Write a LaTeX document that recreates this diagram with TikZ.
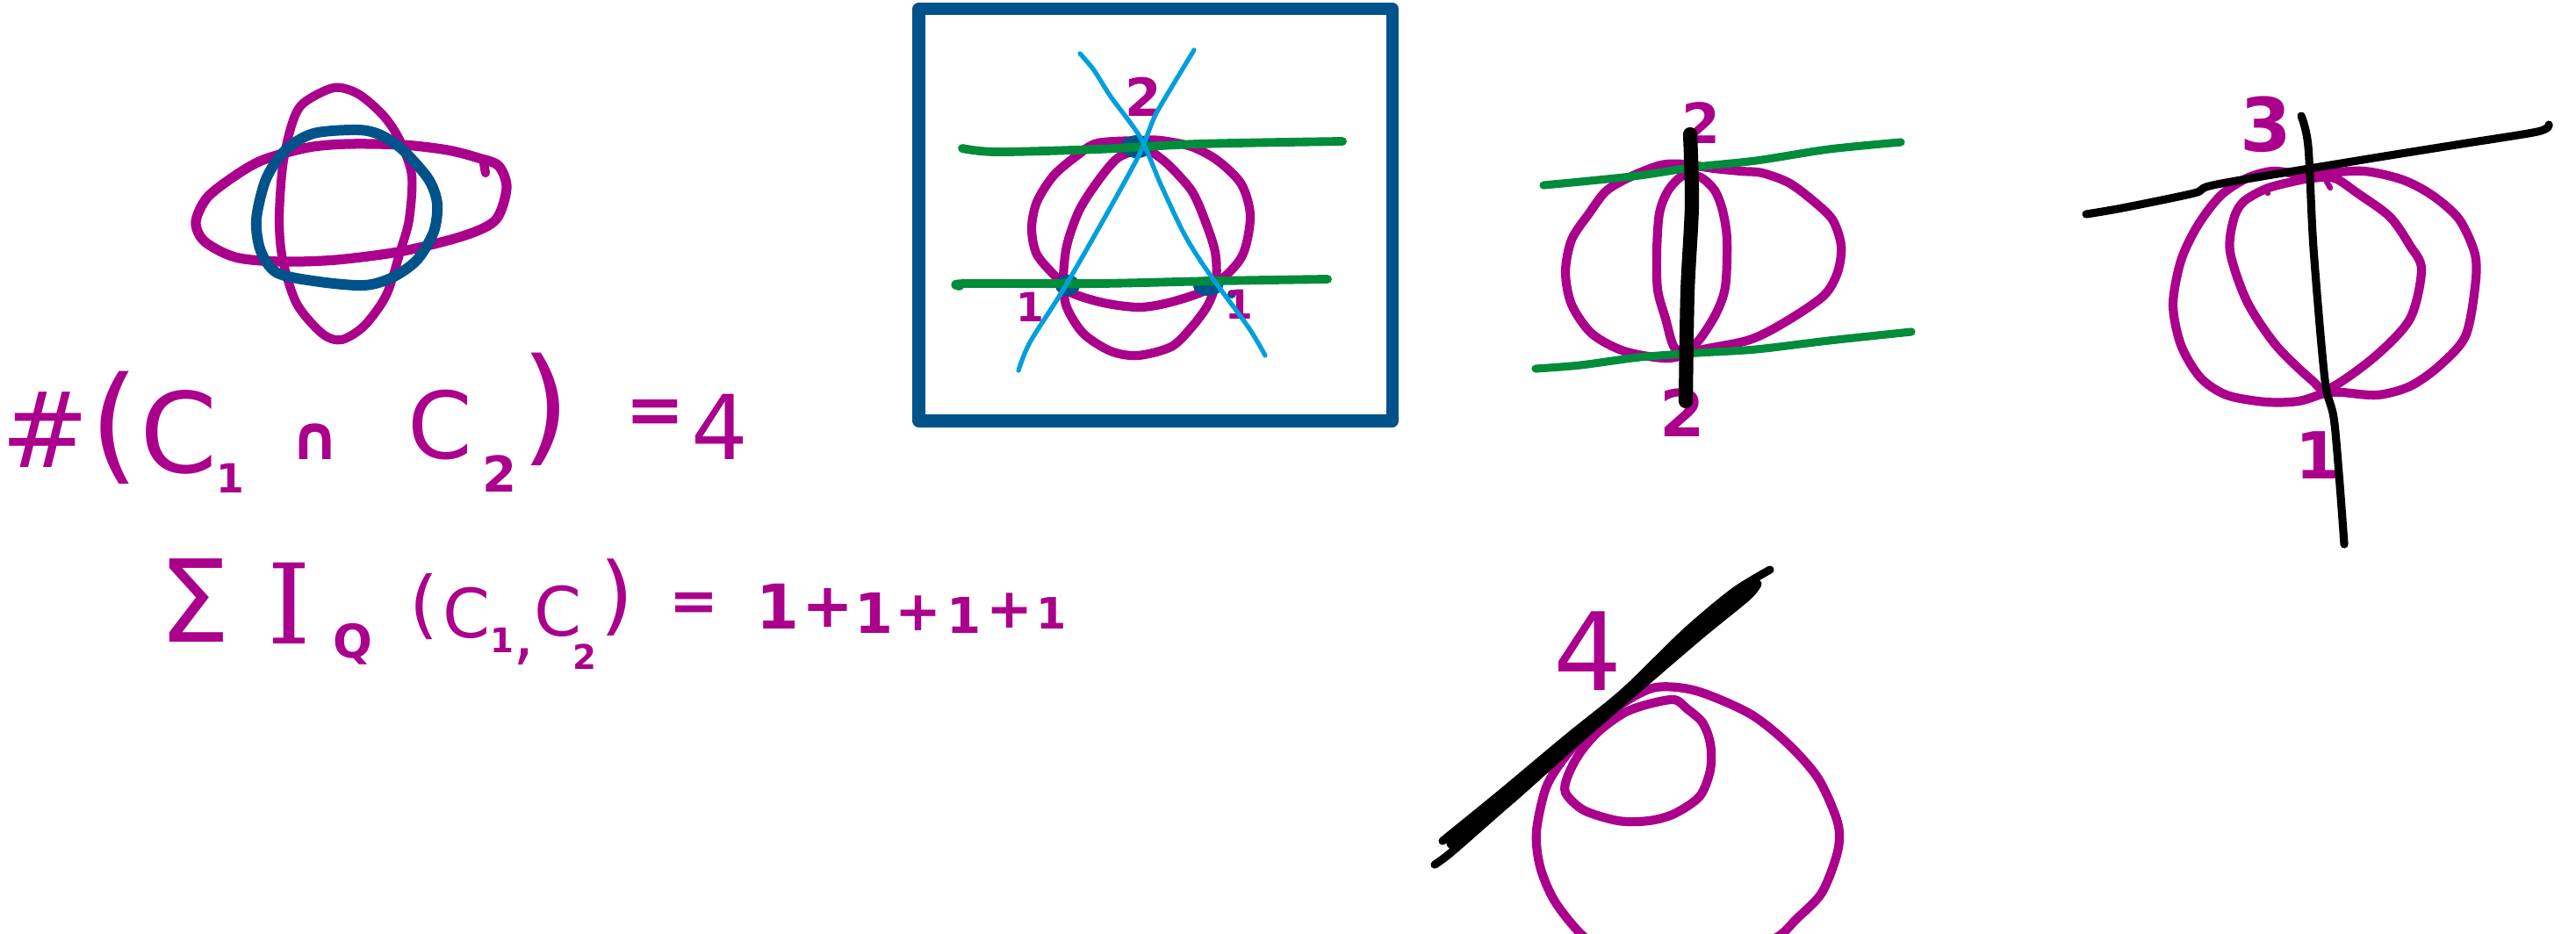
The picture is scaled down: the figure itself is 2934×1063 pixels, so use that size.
\documentclass[tikz,border=0pt]{standalone}
\usepackage{fontspec}
\setmainfont{DejaVu Sans}
\newfontfamily\hwserif{DejaVu Serif}
\definecolor{inkmag}{HTML}{AA008C}
\definecolor{inkblue}{HTML}{00538A}
\definecolor{inkgreen}{HTML}{008C3A}
\definecolor{inksky}{HTML}{00A0DC}
\tikzset{
  curvemag/.style={draw=inkmag,line width=2.9pt,line cap=round,line join=round},
  curveblue/.style={draw=inkblue,line width=3.4pt,line cap=round,line join=round},
  linegreen/.style={draw=inkgreen,line width=2.8pt,line cap=round,line join=round},
  linesky/.style={draw=inksky,line width=1.5pt,line cap=round,line join=round},
  lineblack/.style={draw=black,line width=2.6pt,line cap=round,line join=round},
  gly/.style={text=inkmag,inner sep=0pt,outer sep=0pt,font=\fontsize{#1}{#1}\selectfont},
  glyb/.style={text=inkmag,inner sep=0pt,outer sep=0pt,font=\bfseries\fontsize{#1}{#1}\selectfont},
  glys/.style={text=inkmag,inner sep=0pt,outer sep=0pt,font=\hwserif\fontsize{#1}{#1}\selectfont},
}
\begin{document}
\begin{tikzpicture}[x=0.01cm,y=-0.01cm]
\path[use as bounding box] (0,0) rectangle (2934,1063);
\clip (0,0) rectangle (2934,1063);

% --- top left sketch
\draw[curvemag] plot[smooth cycle] coordinates {(345,118)(380,100)(408,107)(437,132)(456,161)(469,200)(466,250)(456,286)(440,336)(415,371)(389,387)(367,380)(338,346)(322,296)(318,250)(322,189)(332,143)};
\draw[curvemag,line width=3.2pt] plot[smooth cycle] coordinates {(510,171)(459,165)(396,164)(351,168)(300,182)(268,200)(236,225)(223,253)(233,275)(268,293)(319,298)(383,296)(459,286)(530,268)(565,250)(577,214)(568,189)(545,180)};
\draw[curvemag] (551,186) -- (553,197);
\draw[curveblue] plot[smooth cycle] coordinates {(408,148)(357,152)(325,171)(303,204)(292,250)(297,286)(316,311)(364,321)(415,325)(447,316)(475,296)(494,264)(498,232)(488,204)(459,171)(434,154)};

% --- formula 1
\node[gly=34pt] (hash) at (52,490) {\#};
\node[gly=41pt] (lpA) at (131,487) {(};
\node[gly=36pt] (cA) at (204,492) {C};
\node[glyb=13pt] (subA) at (262,545) {1};
\node[glyb=20pt] (capA) at (359,503) {∩};
\node[gly=30pt] (cB) at (501,484) {C};
\node[glyb=16pt] (subB) at (569,540) {2};
\node[gly=41pt] (rpA) at (622,466) {)};
\node[glyb=23pt] (eqA) at (746,475) {=};
\node[gly=29pt] (four) at (820,486) {4};

% --- formula 2
\node[gly=37pt] (sum) at (222,684) {Σ};
\node[glys=36pt] (ii) at (330,687) {I};
\node[glyb=15pt] (qq) at (402,734) {Q};
\node[gly=24pt] (lpB) at (483,691) {(};
\node[gly=22pt] (cC) at (532,698) {C};
\node[glyb=11pt] (subC) at (572,729) {1};
\node[gly=22pt] (comma) at (597,748) {,};
\node[gly=22pt] (cD) at (636,696) {C};
\node[glyb=11pt] (subD) at (666,748) {2};
\node[gly=28pt] (rpB) at (703,681) {)};
\node[glyb=19pt] (eqB) at (790,691) {=};
\node[glyb=20pt] (oneA) at (886,691) {1};
\node[glyb=20pt] (plusA) at (943,692) {+};
\node[glyb=18pt] (oneB) at (996,698) {1};
\node[glyb=18pt] (plusB) at (1046,699) {+};
\node[glyb=16pt] (oneC) at (1098,701) {1};
\node[glyb=18pt] (plusC) at (1150,696) {+};
\node[glyb=14pt] (oneD) at (1198,699) {1};

% --- framed sketch
\draw[draw=inkblue,line width=4pt,line join=round] (1046.5,10) rectangle (1586,479.5);
\draw[curvemag] plot[smooth cycle] coordinates {(1299,160)(1250,163)(1227,177)(1200,200)(1181,230)(1175,260)(1181,290)(1204,317)(1219,333)(1257,345)(1299,350)(1338,343)(1380,327)(1414,293)(1424,247)(1414,210)(1387,183)(1357,167)(1322,160)};
\draw[curvemag] plot[smooth cycle] coordinates {(1299,170)(1273,180)(1250,207)(1229,240)(1215,280)(1211,320)(1215,350)(1234,380)(1265,400)(1296,405)(1334,395)(1357,373)(1376,347)(1385,320)(1384,287)(1372,250)(1357,217)(1330,187)(1307,170)};
\fill[inkblue] (1295,167) ellipse [x radius=18,y radius=13];
\fill[inkblue] (1216,325) ellipse [x radius=14,y radius=12];
\fill[inkblue] (1376,326) ellipse [x radius=17,y radius=11];
\fill[inkblue] (1403,335) circle [radius=5];
\node[glyb=17pt] (fr2) at (1302,110) {2};
\node[glyb=13pt] (frL) at (1173,350) {1};
\node[glyb=13pt] (frR) at (1411,347) {1};
\draw[linegreen] plot[smooth] coordinates {(1096,169)(1135,173)(1250,170)(1364,164)(1529,161)};
\draw[linegreen] plot[smooth] coordinates {(1093,326)(1100,323)(1250,323)(1384,320)(1512,318)};
\draw[linesky] plot[smooth] coordinates {(1230,61)(1246,80)(1265,110)(1299,157)(1322,210)(1349,267)(1376,310)(1422,373)(1441,405)};
\draw[linesky] plot[smooth] coordinates {(1360,57)(1334,100)(1315,133)(1297,177)(1257,250)(1211,330)(1173,390)(1160,422)};

% --- middle sketch
\draw[curvemag] plot[smooth cycle] coordinates {(1892,188)(1860,200)(1830,217)(1810,243)(1790,273)(1783,310)(1790,347)(1813,380)(1850,400)(1900,408)(1940,398)(1993,387)(2033,367)(2077,337)(2093,310)(2097,280)(2087,250)(2063,227)(2037,208)(2007,197)(1983,195)(1953,192)(1917,187)};
\draw[curvemag] plot[smooth cycle] coordinates {(1917,200)(1900,217)(1890,243)(1887,287)(1888,330)(1897,363)(1908,397)(1930,393)(1953,360)(1965,327)(1967,273)(1962,240)(1953,217)(1937,202)};
\node[glyb=18pt] (midT) at (1937,140) {2};
\node[glyb=21pt] (midB) at (1916,470) {2};
\draw[linegreen,line width=2.6pt] plot[smooth] coordinates {(1758,211)(1800,207)(1867,200)(1933,190)(2000,183)(2083,170)(2165,162)};
\draw[linegreen,line width=2.6pt] plot[smooth] coordinates {(1749,420)(1800,416)(1867,407)(1933,402)(2000,398)(2083,388)(2177,378)};
\draw[lineblack,line width=4.6pt] plot[smooth] coordinates {(1925,153)(1927,233)(1922,333)(1920,457)};

% --- right sketch
\draw[curvemag] plot[smooth cycle] coordinates {(2588,195)(2559,203)(2529,223)(2503,257)(2484,297)(2475,347)(2484,393)(2506,430)(2536,450)(2581,458)(2618,457)(2648,448)(2667,447)(2708,450)(2745,440)(2778,417)(2808,383)(2819,327)(2819,290)(2801,250)(2771,223)(2737,205)(2693,195)(2648,197)(2618,198)};
\draw[curvemag] plot[smooth cycle] coordinates {(2611,207)(2581,215)(2555,230)(2544,250)(2540,287)(2559,343)(2592,393)(2633,433)(2652,443)(2704,407)(2745,363)(2758,307)(2745,280)(2722,247)(2685,220)(2659,203)(2633,203)};
\draw[curvemag,line width=1.8pt] (2581,214) -- (2583,220);
\draw[curvemag,line width=1.8pt] (2650,207) -- (2654,214);
\node[glyb=24pt] (rt3) at (2581,142) {3};
\node[glyb=21pt] (rt1) at (2640,519) {1};
\draw[lineblack] plot[smooth] coordinates {(2376,244)(2417,237)(2499,220)(2525,210)(2685,183)(2797,165)(2890,150)(2903,142)};
\draw[lineblack] plot[smooth] coordinates {(2621,132)(2629,167)(2635,283)(2648,433)(2659,483)(2670,620)};

% --- bottom sketch
\draw[curvemag] plot[smooth cycle] coordinates {(1886,783)(1932,787)(1993,813)(2036,847)(2071,887)(2093,937)(2093,970)(2075,1017)(2046,1047)(2025,1067)(1984,1085)(1900,1095)(1840,1085)(1804,1067)(1771,1027)(1754,987)(1750,947)(1761,897)(1782,863)(1814,827)(1850,800)};
\draw[curvemag] plot[smooth cycle] coordinates {(1907,797)(1878,802)(1850,812)(1821,833)(1800,857)(1786,883)(1783,903)(1804,923)(1843,935)(1878,935)(1907,927)(1936,907)(1948,877)(1948,847)(1939,823)(1921,807)};
\node[gly=35pt] (bt4) at (1809,742) {4};
\draw[lineblack] plot[smooth] coordinates {(1643,958)(1707,906)(1786,840)(1850,788)(1920,720)(1975,674)(2016,649)};
\draw[lineblack] plot[smooth] coordinates {(1634,985)(1654,970)(1720,912)(1790,850)(1850,798)(1935,725)(1990,680)(2002,665)};
\draw[lineblack,line width=4.4pt] plot[smooth] coordinates {(1655,960)(1720,908)(1790,845)(1850,793)(1930,722)(1992,670)};
\end{tikzpicture}
\end{document}
